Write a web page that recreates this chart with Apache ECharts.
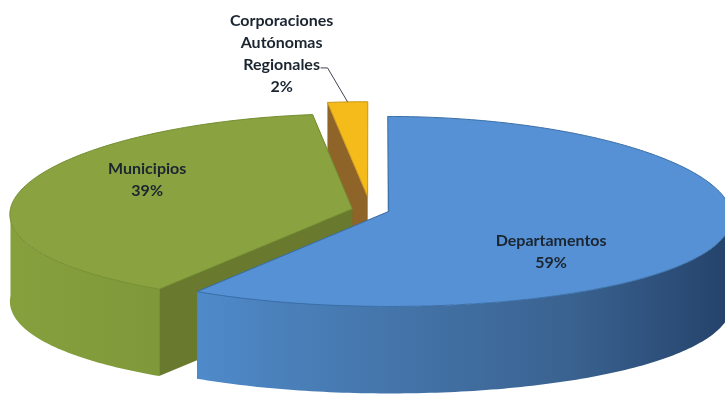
<!DOCTYPE html>
<html>
<head>
<meta charset="utf-8">
<script src="https://cdn.jsdelivr.net/npm/echarts@6/dist/echarts.min.js"></script>
<style>
  html, body { margin: 0; padding: 0; background: #ffffff; }
  #chart { width: 725px; height: 394px; }
</style>
</head>
<body>
<div id="chart"></div>
<script>
// Share of the total by type of territorial entity (percent)
const categories = ['Departamentos', 'Municipios', 'Corporaciones\nAutónomas\nRegionales'];
const shares = [59, 39, 2];

// Visual configuration for the tilted, exploded 3D pie
// cx/cy: disk centre on screen, rx/ry: radii, depth: wall height, persp: horizontal foreshortening
const layout = { cx: 370.6, cy: 210, rx: 342, ry: 95, depth: 87, persp: 0.056 };
const explode = [0.055, 0.055, 0.14];
const topColors = ['#5591D4', '#8AA340', '#F4BB1A'];
const faceColors = ['#2F5A88', '#69792D', '#8E6428'];
const edgeColors = ['#3A6FA8', '#748E30', '#C9961A'];
const wallStops = [
  [[0, '#4F8ACA'], [0.2, '#497EB7'], [0.7, '#3A6290'], [1, '#24426A']],
  [[0, '#86A03E'], [1, '#7F993A']],
  [[0, '#B88A1E'], [1, '#A67C1A']]
];
const labelPlacement = [
  { r: 0.49, dy: 27 },
  { r: 0.62, dy: -16 },
  { outside: true, dx: -66, dy: -48 }
];

const total = shares.reduce((a, b) => a + b, 0);
const rad = d => d * Math.PI / 180;

// Project a point of the unit disk (u across, v into the page) at height z (0 top, 1 bottom)
function proj(u, v, z) {
  return [
    layout.cx + layout.rx * u / (1 + layout.persp * v),
    layout.cy - layout.ry * v + (z || 0) * layout.depth
  ];
}
function rimPoint(s, deg, k, z) {
  k = k === undefined ? 1 : k;
  return proj(s.u + k * Math.sin(rad(deg)), s.v + k * Math.cos(rad(deg)), z);
}
function arc(s, a, b, z) {
  const n = Math.max(2, Math.ceil(Math.abs(b - a)));
  const out = [];
  for (let j = 0; j <= n; j++) out.push(rimPoint(s, a + (b - a) * j / n, 1, z));
  return out;
}

// Angles run clockwise from 12 o'clock
const slices = shares.map((v, i) => {
  const start = shares.slice(0, i).reduce((a, b) => a + b, 0) / total * 360;
  const end = start + v / total * 360;
  const mid = (start + end) / 2;
  const e = explode[i];
  return { start, end, mid, u: e * Math.sin(rad(mid)), v: e * Math.cos(rad(mid)) };
});

// Back-to-front drawing rank: slices further away are painted first
const order = slices.map((s, i) => i).sort((a, b) => Math.cos(rad(slices[b].mid)) - Math.cos(rad(slices[a].mid)));
const rank = [];
order.forEach((idx, r) => { rank[idx] = r; });

function renderItem(params, api) {
  const i = params.dataIndex;
  const s = slices[i];
  const cTop = proj(s.u, s.v, 0);
  const cBot = proj(s.u, s.v, 1);
  const base = rank[i] * 10;
  const children = [];

  // Radial cut faces
  [s.start, s.end].forEach(deg => {
    children.push({
      type: 'polygon', z2: base + 1,
      shape: { points: [cTop, rimPoint(s, deg, 1, 0), rimPoint(s, deg, 1, 1), cBot] },
      style: { fill: faceColors[i] }
    });
  });

  // Outer wall, front half only
  const a = Math.max(s.start, 90), b = Math.min(s.end, 270);
  if (b > a) {
    const topArc = arc(s, a, b, 0);
    const botArc = arc(s, a, b, 1).reverse();
    children.push({
      type: 'polygon', z2: base + 2,
      shape: { points: topArc.concat(botArc) },
      style: {
        fill: new echarts.graphic.LinearGradient(0, 0, 1, 0,
          wallStops[i].map(st => ({ offset: st[0], color: st[1] })))
      }
    });
  }

  // Top surface
  children.push({
    type: 'polygon', z2: base + 3,
    shape: { points: [cTop].concat(arc(s, s.start, s.end, 0)) },
    style: { fill: topColors[i], stroke: edgeColors[i], lineWidth: 1 }
  });

  // Data label
  const value = api.value(0);
  const text = categories[i] + '\n' + value + '%';
  const lp = labelPlacement[i];
  const font = { fontFamily: 'Lato', fontWeight: 'bold', fontSize: 16, lineHeight: 22 };
  if (lp.outside) {
    const anchor = rimPoint(s, s.mid, 1, 0);
    children.push({
      type: 'polyline', z2: 100,
      shape: { points: [anchor, [anchor[0] - 20, anchor[1] - 34], [anchor[0] - 27, anchor[1] - 34]] },
      style: { stroke: '#3F4650', lineWidth: 1, fill: null }
    });
    children.push({
      type: 'text', z2: 101,
      style: Object.assign({
        text, x: anchor[0] + lp.dx, y: anchor[1] + lp.dy,
        align: 'center', verticalAlign: 'middle', fill: '#1B2530'
      }, font)
    });
  } else {
    const p = rimPoint(s, s.mid, lp.r, 0);
    children.push({
      type: 'text', z2: 101,
      style: Object.assign({
        text, x: p[0], y: p[1] + lp.dy,
        align: 'center', verticalAlign: 'middle', fill: '#1B2530'
      }, font)
    });
  }

  return { type: 'group', children };
}

const chart = echarts.init(document.getElementById('chart'), null, { renderer: 'canvas' });
chart.setOption({
  animation: false,
  backgroundColor: '#ffffff',
  series: [{
    type: 'custom',
    coordinateSystem: 'none',
    data: shares,
    renderItem
  }]
});
</script>
</body>
</html>
